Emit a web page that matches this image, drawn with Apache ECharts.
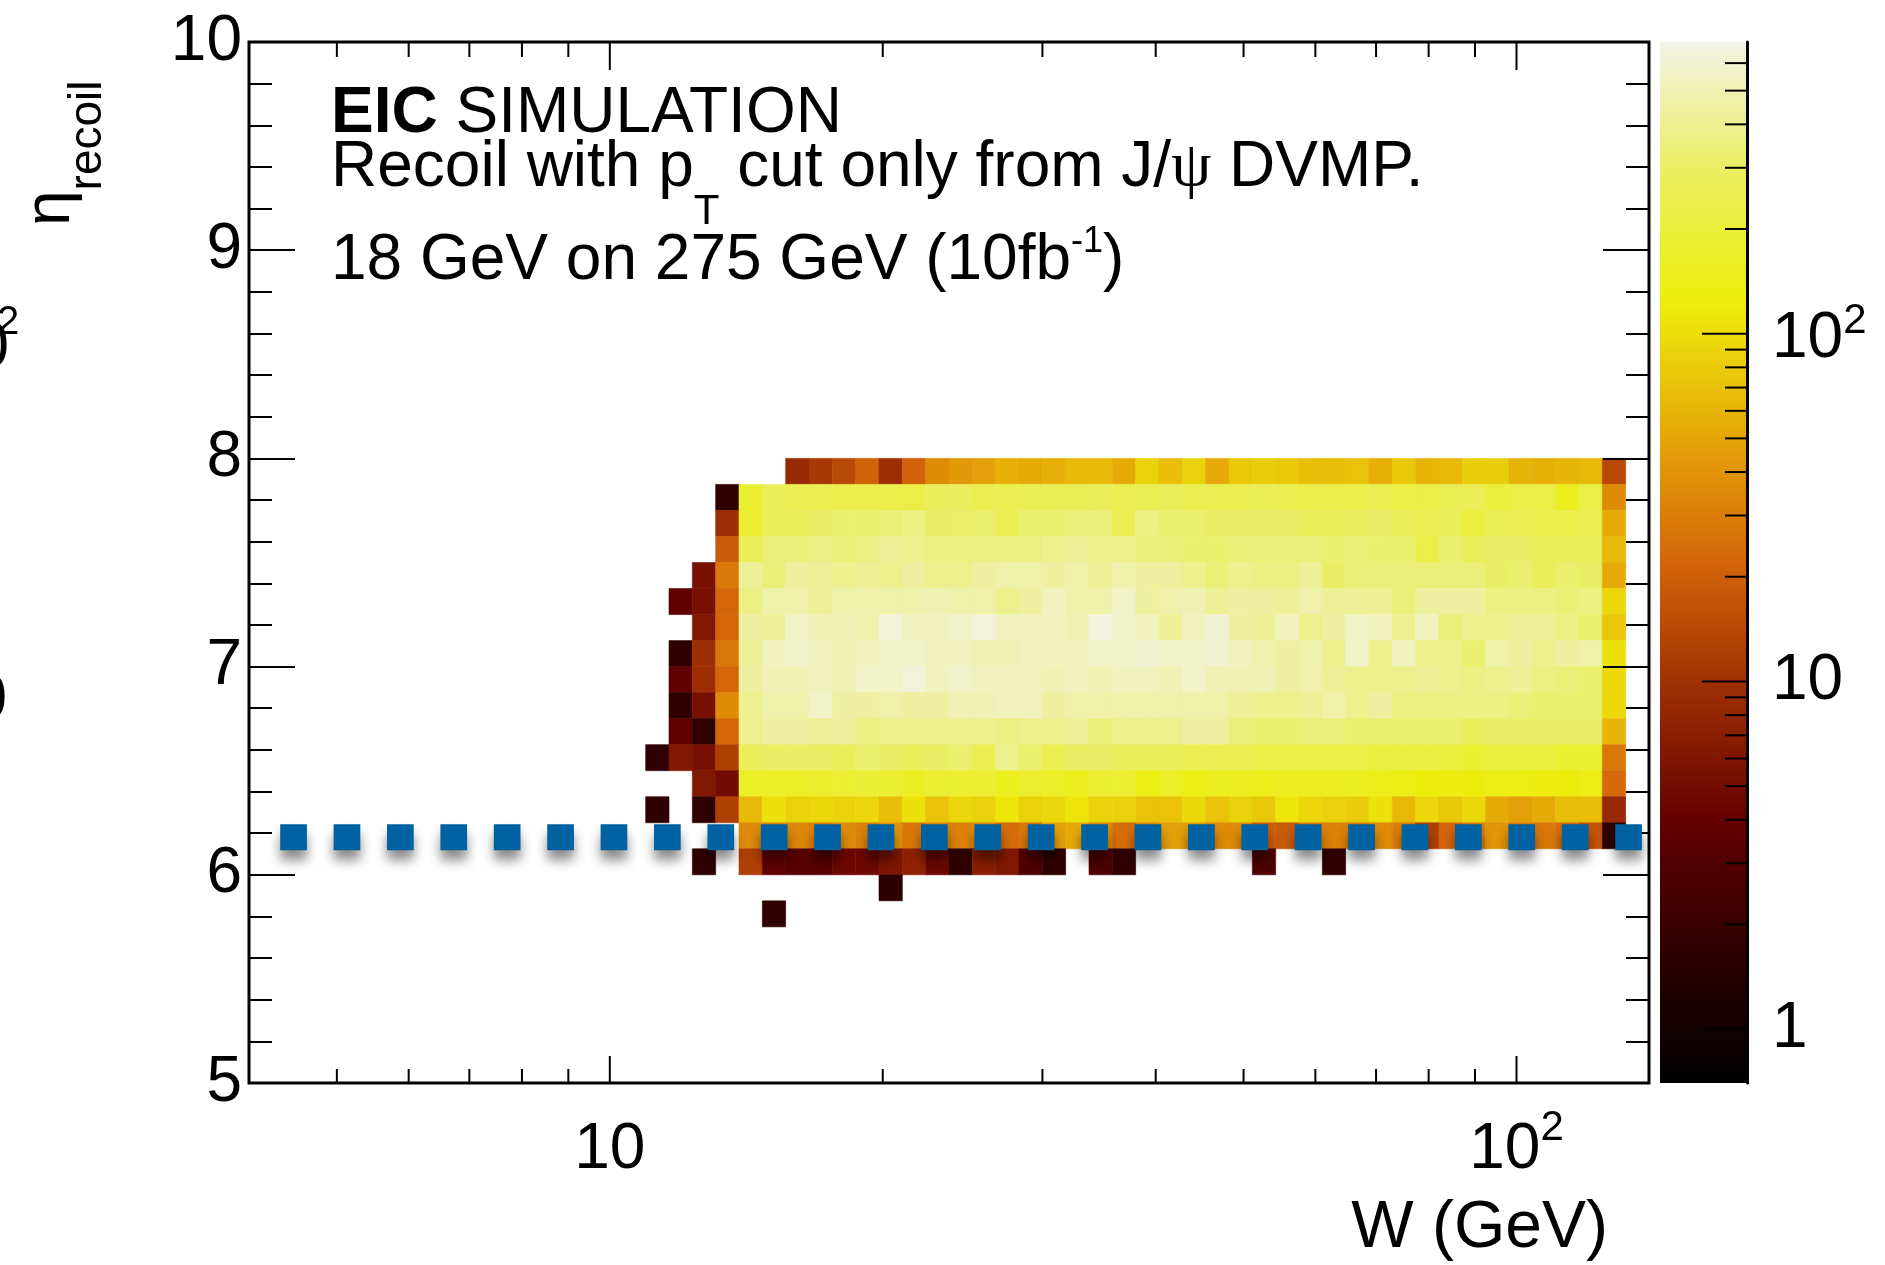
<!DOCTYPE html>
<html><head><meta charset="utf-8">
<script src="https://cdn.jsdelivr.net/npm/echarts@6/dist/echarts.min.js"></script>
<style>html,body{margin:0;padding:0;background:#fff}#c{width:1885px;height:1265px}</style>
</head><body><div id="c"></div>
<script>
// ---- histogram binning (log-spaced W bins, uniform eta bins) ----
const wMin = 4, wMax = 140, nWBins = 60, firstWBin = 17;   // columns below start at W bin 17
const etaMin = 5, etaMax = 10, etaBinWidth = 0.125;
const zMin = 0.7, zMax = 690;

// ---- tick values ----
const xMajorTicks = [10, 100];
const xMinorTicks = [5, 6, 7, 8, 9, 20, 30, 40, 50, 60, 70, 80, 90];
const zMajorTicks = [1, 10, 100];
const zMinorTicks = [2, 3, 4, 5, 6, 7, 8, 9, 20, 30, 40, 50, 60, 70, 80, 90, 200, 300, 400, 500, 600];

// ---- pT cut line ----
const cutEta = 6.18;
const cutW = [4.33, 151];

// ---- counts per eta row (42 W bins each, bins 17..58) ----
const row_7_875 = [0,0,0,0,0,0,8.7,11.2,14.5,21,9.5,21,36,43,47,57,53,57,64,64,53,87,68,87,53,77,82,77,68,68,72,57,77,60,64,82,82,60,57,60,64,14];
const row_7_750 = [0,0,0,1.7,184,277,250,250,238,238,238,226,277,292,250,250,263,263,263,277,250,263,277,250,250,250,263,250,238,238,238,250,226,226,263,263,204,226,226,149,226,36];
const row_7_625 = [0,0,0,9.5,184,277,277,301,321,321,342,365,301,311,321,250,321,321,342,342,250,365,321,321,301,301,301,301,277,277,292,301,277,250,277,204,263,250,238,238,250,53];
const row_7_500 = [0,0,0,18.5,277,342,342,377,342,365,415,389,365,365,365,365,365,389,415,389,389,342,342,321,321,342,342,342,342,321,342,321,321,226,321,277,301,301,277,277,277,64];
const row_7_375 = [0,0,5.3,28,415,342,442,415,389,415,389,442,389,389,442,471,471,442,471,415,471,442,442,389,342,389,365,365,415,301,342,342,342,342,342,342,301,321,277,321,301,53];
const row_7_250 = [0,3.8,5.3,22,365,471,471,415,471,471,471,471,502,471,471,389,442,536,471,471,571,442,471,502,415,442,442,415,471,415,415,415,342,442,442,442,365,365,365,342,365,93];
const row_7_125 = [0,0,6.2,22,442,415,571,502,502,471,629,536,536,571,629,536,536,536,502,649,571,536,415,536,609,442,415,536,389,442,571,536,389,536,342,389,389,415,415,365,321,77];
const row_7_000 = [0,1.7,9.5,28,415,536,571,536,502,536,571,571,536,536,502,502,536,536,536,571,571,609,571,571,609,536,471,442,471,389,571,389,536,389,389,321,471,442,389,442,471,105];
const row_6_875 = [0,3.8,9.5,22,442,502,502,536,502,571,571,629,536,571,536,536,536,502,536,502,536,536,502,571,502,502,502,442,471,415,389,389,389,415,389,365,389,415,365,342,321,93];
const row_6_750 = [0,1.7,5.3,36,389,471,471,571,442,442,471,442,442,502,502,536,536,442,471,471,471,471,471,471,471,415,389,389,415,471,389,442,365,365,365,365,365,342,321,321,321,93];
const row_6_625 = [0,3.8,1.7,22,389,442,442,415,442,365,389,389,389,389,389,365,389,389,415,342,389,389,389,442,442,342,321,321,342,342,321,321,321,321,321,277,301,301,301,301,301,60];
const row_6_500 = [1.7,6.2,5.3,12.5,277,301,301,301,277,321,301,277,301,321,250,389,321,250,301,301,277,277,277,250,250,250,226,226,226,226,226,214,214,214,204,184,204,204,204,184,184,28];
const row_6_375 = [0,0,6.2,4.9,166,166,166,175,184,193,184,157,184,184,184,149,175,166,149,184,184,135,166,135,149,149,142,149,149,149,149,142,135,122,128,122,135,135,128,122,135,23];
const row_6_250 = [1.7,0,1.7,12.5,64,105,87,93,87,93,68,105,72,93,87,111,87,93,109,87,87,72,72,93,72,87,77,111,93,87,82,105,64,93,77,93,53,47,53,68,68,8.5];
const row_6_125 = [0,0,0,0,36,35,34,32,36,32,41,28,35,32,35,24.5,28,47,53,35,24.5,35,47,45,36,36,20,18.5,30,32,30,36,30,12.6,21.5,30,41,30,28,25,17,1.7];
const row_6_000 = [0,0,1.7,0,12.5,3.8,3.3,3.4,4.5,4.6,6,7.5,4.5,1.7,7,6.2,2.9,1.7,0,2.9,1.7,0,0,0,0,0,2.9,0,0,1.7,0,0,0,0,0,0,0,0,0,0,0,0];
const row_5_875 = [0,0,0,0,0,0,0,0,0,0,1.7,0,0,0,0,0,0,0,0,0,0,0,0,0,0,0,0,0,0,0,0,0,0,0,0,0,0,0,0,0,0,0];
const row_5_750 = [0,0,0,0,0,1.7,0,0,0,0,0,0,0,0,0,0,0,0,0,0,0,0,0,0,0,0,0,0,0,0,0,0,0,0,0,0,0,0,0,0,0,0];

const rows = [
  [7.875, row_7_875], [7.75, row_7_750], [7.625, row_7_625], [7.5, row_7_500],
  [7.375, row_7_375], [7.25, row_7_250], [7.125, row_7_125], [7.0, row_7_000],
  [6.875, row_6_875], [6.75, row_6_750], [6.625, row_6_625], [6.5, row_6_500],
  [6.375, row_6_375], [6.25, row_6_250], [6.125, row_6_125], [6.0, row_6_000],
  [5.875, row_5_875], [5.75, row_5_750]
];

// ROOT kDarkBodyRadiator palette stops
const paletteColors = ['#000000','#2d0001','#630001','#9c2d03','#d46509','#e6a808','#edee0b','#eaee5f','#f2f3e6'];

const cells = [];
rows.forEach(function (r) {
  const etaLow = r[0];
  r[1].forEach(function (v, c) {
    if (!(v > 0)) return;
    const b = firstWBin + c;
    const wl = wMin * Math.pow(wMax / wMin, b / nWBins);
    const wh = wMin * Math.pow(wMax / wMin, (b + 1) / nWBins);
    cells.push([wl, wh, etaLow, etaLow + etaBinWidth, v, Math.log10(v)]);
  });
});

const FONT = 'Liberation Sans';
const chart = echarts.init(document.getElementById('c'), null, {renderer: 'canvas'});

function isClose(a, b) { return Math.abs(a - b) < 1e-6 * b; }
function decadeLabel(v) {
  if (isClose(v, 1)) return '{m|1}';
  if (isClose(v, 10)) return '{m|10}';
  if (isClose(v, 100)) return '{m|10}{u|2}';
  return '';
}
const xLabelRich = {
  m: {fontSize: 64, fontFamily: FONT, height: 64, lineHeight: 64, verticalAlign: 'bottom', color: '#000'},
  u: {fontSize: 42, fontFamily: FONT, height: 20, lineHeight: 20, verticalAlign: 'top', color: '#000'}
};
const zLabelRich = {
  m: {fontSize: 64, fontFamily: FONT, height: 64, lineHeight: 64, verticalAlign: 'bottom', color: '#000'},
  u: {fontSize: 42, fontFamily: FONT, height: 52, lineHeight: 76, verticalAlign: 'top', color: '#000'}
};

const option = {
  animation: false,
  backgroundColor: '#ffffff',
  grid: [
    {left: 249, top: 42, width: 1400, height: 1041, show: true, borderColor: '#000', borderWidth: 3, backgroundColor: 'rgba(0,0,0,0)', z: 0},
    {left: 1660, top: 42, width: 87, height: 1041, show: false}
  ],
  xAxis: [
    {type: 'log', logBase: 10, gridIndex: 0, min: wMin, max: wMax,
     axisLine: {show: false}, axisTick: {show: false}, splitLine: {show: false}, minorTick: {show: false},
     axisLabel: {margin: 35, formatter: decadeLabel, rich: xLabelRich, showMinLabel: true, showMaxLabel: true}},
    {type: 'value', gridIndex: 1, min: 0, max: 1, show: false, axisLine: {onZero: false}}
  ],
  yAxis: [
    {type: 'value', gridIndex: 0, min: etaMin, max: etaMax, interval: 1, position: 'left', z: 5,
     axisLine: {show: false, onZero: false},
     axisTick: {show: true, inside: true, length: 46, lineStyle: {color: '#000', width: 2}},
     minorTick: {show: true, splitNumber: 5, length: 23, lineStyle: {color: '#000', width: 2}},
     splitLine: {show: false}, minorSplitLine: {show: false},
     axisLabel: {margin: 7, fontSize: 64, fontFamily: FONT, color: '#000'}},
    {type: 'value', gridIndex: 0, min: etaMin, max: etaMax, interval: 1, position: 'right', z: 5,
     axisLine: {show: false, onZero: false},
     axisTick: {show: true, inside: true, length: 46, lineStyle: {color: '#000', width: 2}},
     minorTick: {show: true, splitNumber: 5, length: 23, lineStyle: {color: '#000', width: 2}},
     splitLine: {show: false}, minorSplitLine: {show: false},
     axisLabel: {show: false}},
    {type: 'log', logBase: 10, gridIndex: 1, min: zMin, max: zMax, position: 'right', z: 5,
     axisLine: {show: true, onZero: false, lineStyle: {color: '#000', width: 3}},
     axisTick: {show: false}, splitLine: {show: false}, minorTick: {show: false},
     axisLabel: {margin: 25, formatter: decadeLabel, rich: zLabelRich, showMinLabel: true, showMaxLabel: true}}
  ],
  visualMap: {
    type: 'continuous', show: false, seriesIndex: 0, dimension: 5,
    min: Math.log10(zMin), max: Math.log10(zMax),
    inRange: {color: paletteColors}
  },
  series: [
    { // histogram cells
      type: 'custom', xAxisIndex: 0, yAxisIndex: 0, z: 2,
      data: cells,
      encode: {x: [0, 1], y: [2, 3]},
      renderItem: function (params, api) {
        const p0 = api.coord([api.value(0), api.value(3)]);
        const p1 = api.coord([api.value(1), api.value(2)]);
        const col = api.visual('color');
        return {type: 'rect',
          shape: {x: p0[0], y: p0[1], width: p1[0] - p0[0], height: p1[1] - p0[1]},
          style: {fill: col, stroke: col, lineWidth: 0.6}};
      }
    },
    { // pT-cut line
      type: 'line', xAxisIndex: 0, yAxisIndex: 0, z: 8, clip: false, symbol: 'none', silent: true,
      data: [[cutW[0], cutEta], [cutW[1], cutEta]],
      lineStyle: {color: '#0062a0', width: 26, type: [26.7, 26.7], cap: 'butt',
        shadowColor: 'rgba(0,0,0,0.45)', shadowBlur: 12, shadowOffsetY: 10}
    },
    { // x-axis ticks (bottom and top, inside)
      type: 'custom', xAxisIndex: 0, yAxisIndex: 0, z: 6, clip: false, silent: true,
      data: xMajorTicks.map(function (v) { return [v, etaMin, 1]; })
        .concat(xMinorTicks.map(function (v) { return [v, etaMin, 0]; })),
      encode: {x: 0, y: 1},
      renderItem: function (params, api) {
        const pb = api.coord([api.value(0), etaMin]);
        const pt = api.coord([api.value(0), etaMax]);
        const lenB = api.value(2) ? 27 : 14;
        const lenT = api.value(2) ? 28 : 15;
        return {type: 'group', children: [
          {type: 'line', shape: {x1: pb[0], y1: pb[1], x2: pb[0], y2: pb[1] - lenB}, style: {stroke: '#000', lineWidth: 2}},
          {type: 'line', shape: {x1: pt[0], y1: pt[1], x2: pt[0], y2: pt[1] + lenT}, style: {stroke: '#000', lineWidth: 2}}
        ]};
      }
    },
    { // colour bar gradient
      type: 'custom', xAxisIndex: 1, yAxisIndex: 2, z: 2, silent: true,
      data: [[0, zMin, 1, zMax]],
      encode: {x: [0, 2], y: [1, 3]},
      renderItem: function (params, api) {
        const p0 = api.coord([api.value(0), api.value(3)]);
        const p1 = api.coord([api.value(2), api.value(1)]);
        const stops = paletteColors.map(function (c, i) { return {offset: i / (paletteColors.length - 1), color: c}; });
        return {type: 'rect',
          shape: {x: p0[0], y: p0[1], width: p1[0] - p0[0], height: p1[1] - p0[1]},
          style: {fill: {type: 'linear', x: 0, y: 1, x2: 0, y2: 0, colorStops: stops}}};
      }
    },
    { // colour bar ticks
      type: 'custom', xAxisIndex: 1, yAxisIndex: 2, z: 6, silent: true,
      data: zMajorTicks.map(function (v) { return [1, v, 1]; })
        .concat(zMinorTicks.map(function (v) { return [1, v, 0]; })),
      encode: {x: 0, y: 1},
      renderItem: function (params, api) {
        const p = api.coord([1, api.value(1)]);
        const len = api.value(2) ? 45 : 22;
        return {type: 'line', shape: {x1: p[0] - len, y1: p[1], x2: p[0], y2: p[1]}, style: {stroke: '#000', lineWidth: 2}};
      }
    }
  ],
  graphic: [
    {type: 'text', x: 331, y: 82, z: 20, style: {
      text: '{b|EIC}{m| SIMULATION}', align: 'left', verticalAlign: 'top', fill: '#000',
      rich: {
        b: {fontSize: 64, fontFamily: FONT, fontWeight: 'bold', height: 64, lineHeight: 64, verticalAlign: 'top', fill: '#000'},
        m: {fontSize: 64, fontFamily: FONT, height: 64, lineHeight: 64, verticalAlign: 'top', fill: '#000'}
      }}},
    {type: 'text', x: 331, y: 136, z: 20, style: {
      text: '{m|Recoil with p}{s|T}{m| cut only from J/}{g|ψ}{m| DVMP.}',
      align: 'left', verticalAlign: 'top', fill: '#000',
      rich: {
        m: {fontSize: 64, fontFamily: FONT, height: 64, lineHeight: 64, verticalAlign: 'top', fill: '#000'},
        s: {fontSize: 42, fontFamily: FONT, height: 152, lineHeight: 152, verticalAlign: 'top', fill: '#000'},
        g: {fontSize: 64, fontFamily: 'Liberation Serif', height: 64, lineHeight: 64, verticalAlign: 'top', fill: '#000'}
      }}},
    {type: 'text', x: 331, y: 229, z: 20, style: {
      text: '{m|18 GeV on 275 GeV (10fb}{u|-1}{m|)}',
      align: 'left', verticalAlign: 'top', fill: '#000',
      rich: {
        m: {fontSize: 64, fontFamily: FONT, height: 64, lineHeight: 64, verticalAlign: 'bottom', fill: '#000'},
        u: {fontSize: 36, fontFamily: FONT, height: 26, lineHeight: 26, verticalAlign: 'top', fill: '#000'}
      }}},
    {type: 'text', x: 13, y: 226, rotation: Math.PI / 2, z: 20, style: {
      text: '{e|η}{s|recoil}', align: 'left', verticalAlign: 'top', fill: '#000',
      rich: {
        e: {fontSize: 64, fontFamily: FONT, height: 76, lineHeight: 76, verticalAlign: 'top', fill: '#000'},
        s: {fontSize: 46, fontFamily: FONT, height: 150, lineHeight: 150, verticalAlign: 'top', fill: '#000'}
      }}},
    {type: 'text', x: 1608, y: 1229, z: 20, style: {
      text: 'W (GeV)', fontSize: 66, fontFamily: FONT, fill: '#000', align: 'right', verticalAlign: 'middle'}},
    // clipped labels from the neighbouring panel at the left edge
    {type: 'text', x: 9, y: 349, z: 20, style: {text: '10', fontSize: 64, fontFamily: FONT, fill: '#000', align: 'right', verticalAlign: 'middle'}},
    {type: 'text', x: -3, y: 323, z: 20, style: {text: '2', fontSize: 40, fontFamily: FONT, fill: '#000', align: 'left', verticalAlign: 'middle'}},
    {type: 'text', x: 7, y: 701, z: 20, style: {text: '10', fontSize: 64, fontFamily: FONT, fill: '#000', align: 'right', verticalAlign: 'middle'}}
  ]
};
chart.setOption(option);
</script>
</body></html>
